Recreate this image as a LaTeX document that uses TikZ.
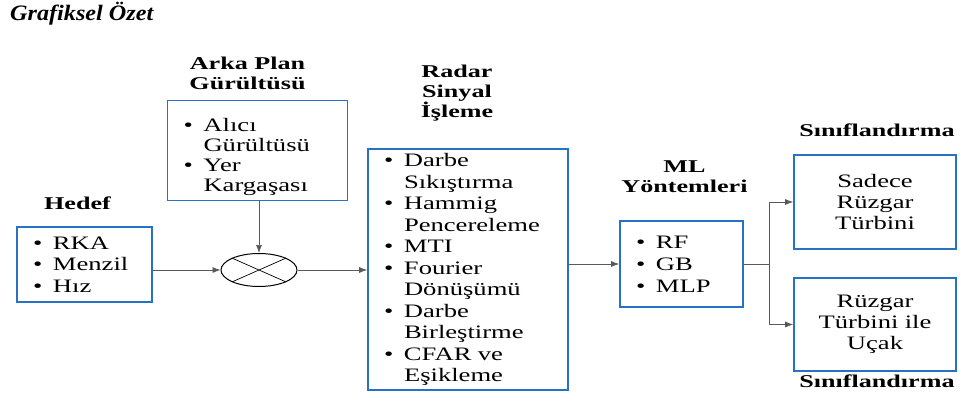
\documentclass[tikz,border=0pt]{standalone}
\usepackage{fontspec}
\setmainfont{Liberation Serif}[FakeStretch=1.4,BoldFeatures={FakeStretch=1.45}]
\newfontfamily\titlefont{Liberation Serif}[FakeStretch=1.1]
\usepackage{xcolor}
\usetikzlibrary{positioning,arrows.meta,shapes.geometric}
\definecolor{boxblue}{RGB}{40,114,196}
\newcommand{\itm}[1]{\makebox[20pt][l]{\textbullet}#1}
\newcommand{\cnt}[1]{\hspace*{20pt}#1}

\begin{document}
\begin{tikzpicture}[x=1pt,y=-1pt,
    box/.style={draw=boxblue, line width=1.7pt, inner xsep=16pt, inner ysep=0pt, align=left, font=\fontsize{19}{21.5}\selectfont},
    cbox/.style={draw=boxblue, line width=1.7pt, inner sep=0pt, align=center, text width=130pt, minimum width=162pt, font=\fontsize{19}{21}\selectfont},
    lbl/.style={font=\bfseries\fontsize{18}{20}\selectfont, align=center, inner sep=0pt},
    arr/.style={-{Latex[length=8pt,width=6pt]}, line width=0.7pt, draw=black!65}]
    \useasboundingbox (0,0) rectangle (968,401);

    \node[anchor=base west, inner sep=0pt, font=\titlefont\bfseries\itshape\fontsize{22}{24}\selectfont] (title) at (10,21) {Grafiksel Özet};

    % boxes
    \node[box, text width=103pt, minimum height=75pt] (hedef) at (84.5,264.5) {\itm{RKA}\\\itm{Menzil}\\\itm{Hız}};
    \node[box, text width=148pt, minimum height=100pt, font=\fontsize{19}{20}\selectfont] (noise) at (257.5,150.5)
        {\rule{0pt}{26pt}\itm{Alıcı}\\\cnt{Gürültüsü}\\\itm{Yer}\\\cnt{Kargaşası}};
    \node[box, text width=168pt, minimum height=241pt] (radar) at (468,269.5)
        {\itm{Darbe}\\\cnt{Sıkıştırma}\\\itm{Hammig}\\\cnt{Pencereleme}\\\itm{MTI}\\\itm{Fourier}\\\cnt{Dönüşümü}\\\itm{Darbe}\\\cnt{Birleştirme}\\\itm{CFAR ve}\\\cnt{Eşikleme}};
    \node[box, text width=91pt, minimum height=86pt, font=\fontsize{19}{22}\selectfont] (ml) at (681.5,264) {\itm{RF}\\\itm{GB}\\\itm{MLP}};
    \node[cbox, minimum height=94pt] (only) at (875,202) {Sadece\\Rüzgar\\Türbini};
    \node[cbox, minimum height=93pt] (both) at (875,324.5) {Rüzgar\\Türbini ile\\Uçak};

    % mixer
    \node[draw, ellipse, line width=1pt, minimum width=76pt, minimum height=33pt] (mix) at (259,270) {};
    \draw[line width=0.7pt] (mix.north west) -- (mix.south east);
    \draw[line width=0.7pt] (mix.south west) -- (mix.north east);

    % labels
    \node[lbl, above=10pt of noise, xshift=-10pt] (noiselbl) {Arka Plan\\Gürültüsü};
    \node[lbl, above=16pt of hedef, xshift=-7pt] (hedeflbl) {Hedef};
    \node[lbl, above=27pt of radar, xshift=-11pt] (radarlbl) {Radar\\Sinyal\\İşleme};
    \node[lbl, above=27pt of ml, xshift=3pt] (mllbl) {ML\\Yöntemleri};
    \node[lbl, above=17pt of only, xshift=2pt] (onlylbl) {Sınıflandırma};
    \node[lbl, below=3pt of both, xshift=2pt] (bothlbl) {Sınıflandırma};

    % connectors
    \draw[arr] (hedef.east |- mix.west) -- (mix.west);
    \draw[arr] (noise.south -| mix.north) -- (mix.north);
    \draw[arr] (mix.east) -- (mix.east -| radar.west);
    \draw[arr] (radar.east |- ml.west) -- (ml.west);
    \coordinate[right=25pt of ml] (split);
    \draw[line width=0.7pt, draw=black!65] (ml.east) -- (split);
    \draw[arr] (split) |- (only.west);
    \draw[arr] (split) |- (both.west);
\end{tikzpicture}
\end{document}
